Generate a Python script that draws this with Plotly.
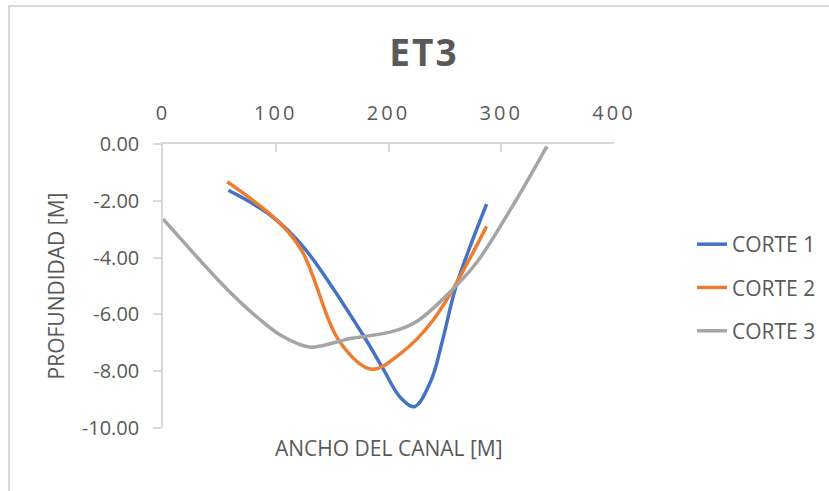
import plotly.graph_objects as go

# Cross sections of the channel at station ET3: width [m] vs depth [m]
corte1_x = [58, 95, 125, 177, 195, 210, 223, 238, 248, 260, 287]
corte1_y = [-1.63, -2.5, -3.65, -6.7, -7.9, -8.9, -9.25, -8.3, -6.9, -5.0, -2.12]

corte2_x = [57, 100, 123, 157, 185, 210, 240, 287]
corte2_y = [-1.33, -2.65, -3.75, -6.98, -7.93, -7.4, -6.18, -2.9]

corte3_x = [0, 57, 86, 106, 130, 154, 166, 204, 225, 248, 278, 308, 340.5]
corte3_y = [-2.64, -5.12, -6.18, -6.77, -7.15, -6.97, -6.85, -6.6, -6.25, -5.47, -4.18, -2.32, -0.08]

series_names = ["CORTE 1", "CORTE 2", "CORTE 3"]
series_colors = ["#4472C4", "#ED7D31", "#A5A5A5"]

x_ticks = [0, 100, 200, 300, 400]
y_ticks = [0, -2, -4, -6, -8, -10]
y_tick_text = ["%.2f" % v for v in y_ticks]

FONT = "Open Sans"
TEXT_COLOR = "#595959"
AXIS_COLOR = "#D9D9D9"

fig = go.Figure()
for i, (xs, ys) in enumerate([(corte1_x, corte1_y), (corte2_x, corte2_y), (corte3_x, corte3_y)]):
    fig.add_trace(go.Scatter(
        x=xs, y=ys, mode="lines", name=series_names[i],
        legendgroup=series_names[i],
        line=dict(color=series_colors[i], width=3.5, shape="spline", smoothing=1.0),
    ))

W, H = 829, 491
L, R, T, B = 163, 215, 144, 63
pw, ph = W - L - R, H - T - B

def px_x(p):
    return (p - L) / pw

def px_y(p):
    return (H - B - p) / ph

fig.update_layout(
    width=W, height=H,
    margin=dict(l=L, r=R, t=T, b=B, autoexpand=False),
    paper_bgcolor="white", plot_bgcolor="white",
    font=dict(family=FONT, color=TEXT_COLOR, size=20),
    title=dict(
        text='<span style="letter-spacing:2px">ET3</span>',
        font=dict(family=FONT, size=37, color=TEXT_COLOR, weight="bold"),
        x=424 / W, xanchor="center",
        y=1 - 53.5 / H, yanchor="middle", yref="container",
    ),
    showlegend=True,
    legend=dict(
        x=px_x(692), xanchor="left",
        y=px_y(224), yanchor="top",
        font=dict(family=FONT, size=21, color=TEXT_COLOR),
        tracegroupgap=13, bgcolor="rgba(0,0,0,0)",
        itemwidth=30,
    ),
    xaxis=dict(
        side="top", range=[0, 400],
        tickvals=x_ticks,
        ticktext=['<span style="letter-spacing:3px">%d</span>' % v for v in x_ticks],
        ticks="inside", ticklen=8, tickcolor=AXIS_COLOR, tickwidth=1.5,
        showline=True, linecolor=AXIS_COLOR, linewidth=1.5,
        showgrid=False, zeroline=False,
        tickfont=dict(family=FONT, size=20, color=TEXT_COLOR),
        ticklabelstandoff=14,
    ),
    yaxis=dict(
        range=[-10, 0], tickvals=y_ticks, ticktext=y_tick_text,
        ticks="outside", ticklen=8, tickcolor=AXIS_COLOR, tickwidth=1.5,
        showline=True, linecolor=AXIS_COLOR, linewidth=1.5,
        showgrid=False, zeroline=False,
        tickfont=dict(family=FONT, size=20, color=TEXT_COLOR),
        ticklabelstandoff=10,
        title=dict(text="PROFUNDIDAD [M]", font=dict(family=FONT, size=21, color=TEXT_COLOR), standoff=11),
    ),
    annotations=[dict(
        text="ANCHO DEL CANAL [M]", xref="paper", yref="paper",
        x=0.5, y=px_y(447.5), xanchor="center", yanchor="middle",
        showarrow=False, font=dict(family=FONT, size=21, color=TEXT_COLOR),
    )],
    shapes=[dict(
        type="rect", xref="paper", yref="paper",
        x0=px_x(9), x1=px_x(840), y0=px_y(6), y1=px_y(500),
        line=dict(color=AXIS_COLOR, width=2), fillcolor="rgba(0,0,0,0)",
    )],
)

fig.write_html("out.html")
